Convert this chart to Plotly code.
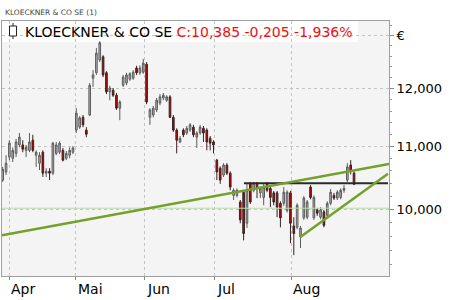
import math
import plotly.graph_objects as go

# ---------------- data ----------------
opens = [10.45, 10.58, 10.82, 10.80, 10.88, 11.02, 11.02, 10.93, 10.93, 11.10,
         10.85, 10.72, 10.90, 10.56, 10.59, 10.56, 10.88, 10.90, 10.93, 10.80,
         10.85, 10.90,
         11.27, 11.32, 11.49, 11.27, 11.53, 12.19, 12.29, 12.53, 12.59, 12.29,
         11.94, 11.97, 11.88, 11.65, 12.06, 12.10, 12.17, 12.19, 12.38, 12.29,
         12.30, 12.45,
         11.49, 11.53, 11.62, 11.74, 11.83, 11.79, 11.85, 11.49, 11.27, 11.07,
         11.27, 11.22, 11.27, 11.32, 11.15, 11.22, 11.30, 11.27, 11.13, 11.07,
         10.77, 10.64, 10.53, 10.69, 10.56, 10.21, 10.21, 10.11, 10.26, 9.79,
         10.40, 10.29, 10.40, 10.25, 10.18, 10.40, 10.32, 10.25, 10.25, 10.09,
         10.09, 9.98,
         10.25, 9.75, 9.73, 9.59, 9.87, 9.88, 10.34, 9.87, 9.99, 9.88,
         9.96, 9.91, 10.09, 10.21, 10.17, 10.18, 10.29, 10.45, 10.69, 10.56]

closes = [10.62, 10.72, 11.05, 10.93, 11.07, 11.15, 10.95, 10.98, 11.07, 10.93,
          10.90, 10.85, 10.56, 10.59, 10.56, 11.05, 11.02, 11.05, 10.77, 10.88,
          10.93, 10.97,
          11.56, 11.48, 11.36, 11.20, 12.06, 12.25, 12.66, 12.86, 12.25, 11.94,
          12.01, 11.88, 11.65, 11.76, 12.21, 12.25, 12.27, 12.30, 12.29, 12.38,
          12.47, 11.76,
          11.62, 11.65, 11.79, 11.85, 11.88, 11.85, 11.49, 11.27, 11.10, 11.13,
          11.19, 11.30, 11.36, 11.19, 11.22, 11.32, 11.22, 11.07, 11.05, 11.02,
          10.58, 10.45, 10.69, 10.56, 10.34, 10.29, 10.29, 9.84, 9.64, 10.29,
          10.11, 10.40, 10.32, 10.32, 10.34, 10.29, 10.18, 10.11, 10.03, 9.87,
          10.26, 10.26,
          9.79, 9.64, 10.06, 9.72, 10.17, 10.11, 10.18, 10.18, 9.94, 9.99,
          9.76, 10.09, 10.26, 10.17, 10.26, 10.29, 10.32, 10.66, 10.59, 10.385]

highs = [10.66, 10.85, 11.10, 10.98, 11.12, 11.22, 11.10, 11.02, 11.22, 11.19,
         10.93, 10.90, 10.93, 10.64, 10.64, 11.07, 11.07, 11.08, 10.97, 10.92,
         10.98, 11.00,
         11.65, 11.51, 11.53, 11.32, 12.10, 12.34, 12.76, 12.89, 12.62, 12.32,
         12.05, 12.01, 11.92, 11.79, 12.25, 12.29, 12.30, 12.34, 12.42, 12.43,
         12.55, 12.49,
         11.65, 11.69, 11.83, 11.90, 11.92, 11.88, 11.88, 11.53, 11.30, 11.17,
         11.30, 11.34, 11.39, 11.36, 11.25, 11.36, 11.34, 11.30, 11.17, 11.10,
         10.79, 10.67, 10.72, 10.72, 10.59, 10.32, 10.32, 10.14, 10.29, 10.40,
         10.42, 10.42, 10.42, 10.35, 10.40, 10.42, 10.35, 10.28, 10.28, 10.12,
         10.34, 10.29,
         10.28, 9.88, 10.09, 9.75, 10.20, 10.14, 10.37, 10.21, 10.02, 10.03,
         9.99, 10.12, 10.31, 10.25, 10.29, 10.32, 10.37, 10.72, 10.77, 10.59]

lows = [10.42, 10.53, 10.77, 10.74, 10.82, 10.98, 10.90, 10.82, 10.90, 10.90,
        10.66, 10.61, 10.50, 10.50, 10.45, 10.53, 10.85, 10.87, 10.75, 10.77,
        10.80, 10.87,
        11.22, 11.29, 11.32, 11.15, 11.51, 12.03, 12.25, 12.49, 12.21, 11.90,
        11.79, 11.85, 11.62, 11.44, 12.03, 12.06, 12.14, 12.16, 12.25, 12.25,
        12.27, 11.72,
        11.36, 11.49, 11.58, 11.70, 11.79, 11.76, 11.48, 11.24, 10.88, 11.05,
        11.15, 11.19, 11.24, 11.15, 10.97, 11.19, 11.07, 10.93, 10.93, 10.88,
        10.45, 10.39, 10.50, 10.53, 10.29, 10.14, 10.18, 9.79, 9.54, 9.72,
        10.08, 10.26, 10.17, 10.17, 10.06, 10.26, 10.03, 10.06, 9.88, 9.73,
        10.05, 9.95,
        9.50, 9.33, 9.70, 9.43, 9.84, 9.85, 10.15, 9.84, 9.90, 9.85,
        9.73, 9.88, 10.06, 10.14, 10.14, 10.15, 10.25, 10.42, 10.54, 10.37]

idx = list(range(len(closes)))

month_labels = ["Apr", "Mai", "Jun", "Jul", "Aug"]
month_pos = [2.0, 21.9, 42.5, 63.4, 86.2]

price_ticks = [10, 11, 12, 13]
price_tick_text = ["10,000", "11,000", "12,000", "€"]
minor_ticks = [9.2, 9.4, 9.6, 9.8, 10.2, 10.4, 10.6, 10.8, 11.2, 11.4, 11.6,
               11.8, 12.2, 12.4, 12.6, 12.8, 13.2]

# drawn lines (index, price)
trend_up_x = [-0.21, 115.45]
trend_up_y = [9.614, 10.708]
trend_steep_x = [88.85, 115.15]
trend_steep_y = [9.585, 10.552]
resist_x = [72.1, 115.15]
resist_y = [10.40, 10.40]
base_x = [-0.21, 115.45]
base_y = [10.015, 10.015]

x_range = [-0.21, 115.45]
y_range = [9.04, 13.29]

name = "KLOECKNER & CO SE"


def de(v, n=3):
    return f"{v:.{n}f}".replace(".", ",")


last = closes[-1]
chg = last - closes[-2]
pct = chg / closes[-2] * 100

# ---------------- figure ----------------
fig = go.Figure()

fig.add_trace(go.Scatter(x=base_x, y=base_y, mode="lines",
                         line=dict(color="#bcdcae", width=1),
                         hoverinfo="skip", showlegend=False))

fig.add_trace(go.Candlestick(
    x=idx, open=opens, high=highs, low=lows, close=closes,
    increasing=dict(line=dict(color="#5c5c5c", width=1), fillcolor="#b2b2b2"),
    decreasing=dict(line=dict(color="#3a2222", width=1), fillcolor="#cc0000"),
    whiskerwidth=0, showlegend=False, hoverinfo="skip"))

fig.add_trace(go.Scatter(x=resist_x, y=resist_y, mode="lines",
                         line=dict(color="#2a2a2a", width=2),
                         hoverinfo="skip", showlegend=False))
fig.add_trace(go.Scatter(x=trend_up_x, y=trend_up_y, mode="lines",
                         line=dict(color="#74a12a", width=2.5),
                         hoverinfo="skip", showlegend=False))
fig.add_trace(go.Scatter(x=trend_steep_x, y=trend_steep_y, mode="lines",
                         line=dict(color="#74a12a", width=2.5),
                         hoverinfo="skip", showlegend=False))

annotations = []
for lab, pos in zip(month_labels, month_pos):
    annotations.append(dict(x=pos, y=0, xref="x", yref="paper", text=lab,
                            showarrow=False, xanchor="left", yanchor="top",
                            yshift=-3, font=dict(size=14, color="#000")))

annotations.append(dict(x=0.0026, y=1, xref="paper", yref="paper",
                        text=name + " (1)", showarrow=False,
                        xanchor="left", yanchor="bottom", yshift=2,
                        font=dict(size=7.5, color="#444")))

annotations.append(dict(
    x=0.0543, y=1, xref="paper", yref="paper", showarrow=False,
    xanchor="left", yanchor="middle", yshift=-11,
    text=(name + " <span style='color:#ee1111'>C:" + de(last) + " "
          + de(chg) + " " + de(pct) + "%</span>"),
    font=dict(size=14, color="#000")))

shapes = [
    dict(type="rect", xref="paper", yref="paper", x0=0, x1=0.92,
         y0=1, y1=0.9176, fillcolor="white", line=dict(width=0),
         layer="between"),
    dict(type="line", xref="paper", yref="paper", xsizemode="pixel",
         ysizemode="pixel", xanchor=0, yanchor=1, x0=11, x1=11,
         y0=-2, y1=-18, line=dict(color="#222", width=1), layer="above"),
    dict(type="rect", xref="paper", yref="paper", xsizemode="pixel",
         ysizemode="pixel", xanchor=0, yanchor=1, x0=7.5, x1=14.5,
         y0=-5, y1=-15, fillcolor="white", line=dict(color="#222", width=1),
         layer="above"),
]

fig.update_layout(
    width=450, height=300,
    margin=dict(l=2, r=61, t=21, b=24),
    paper_bgcolor="white", plot_bgcolor="#f4f4f4",
    showlegend=False,
    font=dict(family="DejaVu Sans", size=13, color="#000"),
    annotations=annotations, shapes=shapes,
    xaxis=dict(range=x_range, tickvals=month_pos, showticklabels=False,
               ticks="outside", ticklen=3, tickcolor="#888",
               showgrid=True, gridcolor="#c4c4c4", griddash="dot",
               showline=True, mirror=True, linecolor="#a0a0a0",
               zeroline=False, rangeslider=dict(visible=False)),
    yaxis=dict(type="log", side="right",
               range=[math.log10(y_range[0]), math.log10(y_range[1])],
               tickvals=price_ticks, ticktext=price_tick_text,
               ticks="outside", ticklen=4, tickcolor="#888",
               tickfont=dict(size=13, color="#000"),
               showgrid=True, gridcolor="#c4c4c4", griddash="dot",
               showline=True, mirror=True, linecolor="#a0a0a0",
               zeroline=False,
               minor=dict(tickvals=minor_ticks, ticks="outside", ticklen=2,
                          tickcolor="#999", showgrid=False)),
)

fig.write_html("out.html")
